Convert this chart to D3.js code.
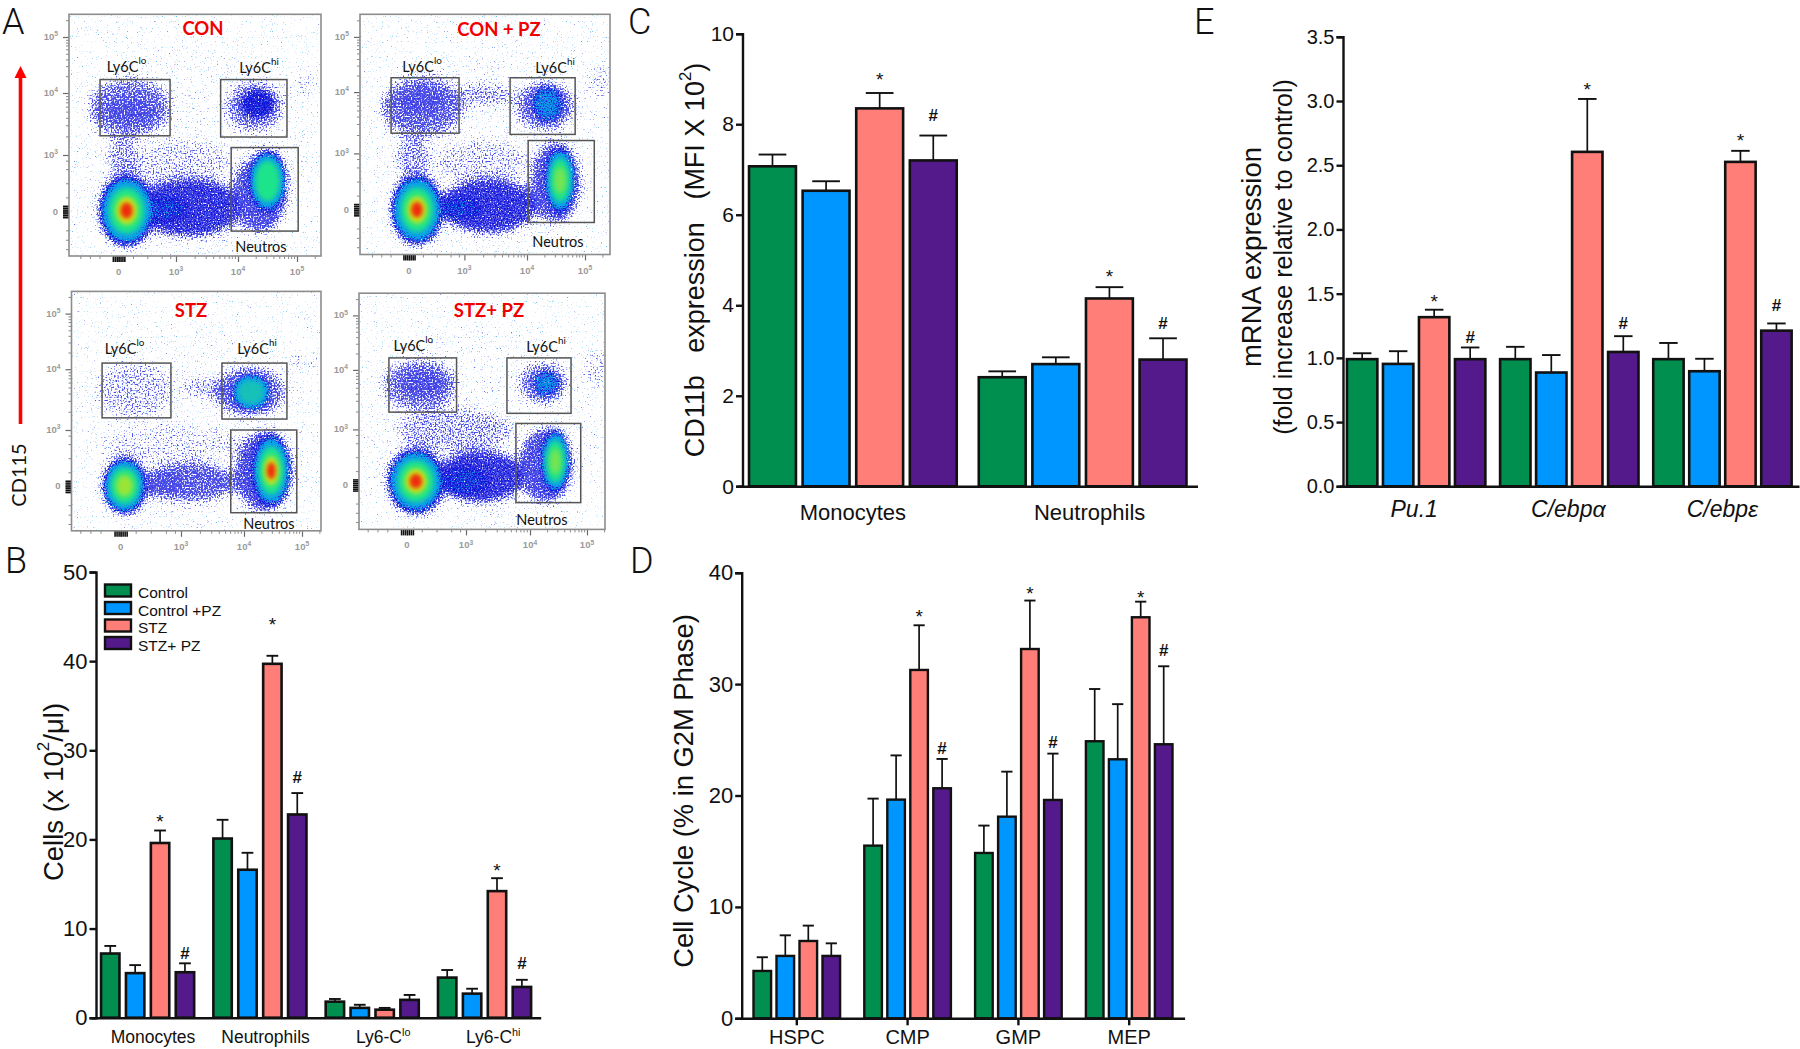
<!DOCTYPE html>
<html><head><meta charset="utf-8">
<script src="https://cdn.jsdelivr.net/npm/d3@7/dist/d3.min.js"></script>
<style>html,body{margin:0;padding:0;background:#fff}svg{display:block}</style>
</head><body><svg id="c" width="1800" height="1049" xmlns="http://www.w3.org/2000/svg"></svg>
<script>
// ---------- shared ----------
const seriesNames = ["Control","Control +PZ","STZ","STZ+ PZ"];
const seriesColors = ["#008f4f","#0096ff","#ff7f78","#541a8b"];

// ---------- panel B ----------
const bCats = ["Monocytes","Neutrophils","Ly6-C^{lo}","Ly6-C^{hi}"];
const bValues = [[7.2,5.0,19.6,5.1],[20.1,16.6,39.7,22.8],[1.8,1.1,0.9,2.0],[4.5,2.7,14.2,3.45]];
const bErrTops = [[8.05,5.9,21.0,6.1],[22.2,18.5,40.6,25.2],[2.1,1.45,1.1,2.55],[5.35,3.25,15.65,4.25]];
const bStars = [22.4,44.5,null,16.95];
const bHashes = [7.3,27.0,null,6.1];
const bTicks = [0,10,20,30,40,50];

// ---------- panel C ----------
const cCats = ["Monocytes","Neutrophils"];
const cValues = [[7.07,6.53,8.35,7.2],[2.41,2.7,4.15,2.8]];
const cErrTops = [[7.33,6.74,8.69,7.75],[2.54,2.85,4.4,3.27]];
const cStars = [9.07,4.72];
const cHashes = [8.2,3.62];
const cTicks = [0,2,4,6,8,10];

// ---------- panel D ----------
const dCats = ["HSPC","CMP","GMP","MEP"];
const dValues = [[4.25,5.6,6.94,5.6],[15.5,19.63,31.27,20.65],[14.84,18.1,33.15,19.6],[24.87,23.25,36.0,24.6]];
const dErrTops = [[5.48,7.45,8.32,6.73],[19.72,23.6,35.28,23.28],[17.3,22.14,37.5,23.76],[29.56,28.2,37.4,31.6]];
const dStars = [null,36.4,38.5,38.15];
const dHashes = [null,24.3,24.8,33.1];
const dTicks = [0,10,20,30,40];

// ---------- panel E ----------
const eCats = ["Pu.1","C/ebpα","C/ebpε"];
const eValues = [[0.99,0.953,1.317,0.99],[0.99,0.886,2.604,1.046],[0.99,0.896,2.526,1.212]];
const eErrTops = [[1.036,1.052,1.375,1.081],[1.086,1.022,3.016,1.169],[1.116,0.993,2.612,1.268]];
const eStars = [1.47,3.12,2.72];
const eHashes = [1.16,1.27,1.415];
const eTicks = [0,0.5,1,1.5,2,2.5,3,3.5];

// ---------- panel A: flow plots; coordinates are decades on the plot's biexponential axes ----------
const flowTicks = [0,3,4,5];
const flowTickLabels = ["0","10^{3}","10^{4}","10^{5}"];
const flowMinor = [-2,-1.5,-1,0.75,1.5,2.25,2.7,3.3,3.48,3.6,3.7,3.78,3.85,3.9,3.95,4.3,4.48,4.6,4.7,4.78,4.85,4.9,4.95,5.3];
const flowZeroClump = [-0.3,-0.2,-0.1,0,0.1,0.2,0.3];

// gates: [x0,x1,y0(top),y1(bottom)] for Ly6Clo, Ly6Chi, Neutros
const conGates = [[-0.97,2.69,4.24,3.31],[3.72,4.83,4.24,3.29],[3.89,5.02,3.12,-1.04]];
const conPzGates = [[-0.97,2.71,4.26,3.33],[3.73,4.83,4.26,3.31],[4.02,5.16,3.21,-0.68]];
const stzGates = [[-0.92,2.5,4.11,3.2],[3.65,4.74,4.11,3.18],[3.79,4.91,3.0,-1.4]];
const stzPzGates = [[-0.92,2.52,4.22,3.29],[3.64,4.72,4.22,3.27],[3.78,4.89,3.1,-0.95]];

// populations: [x0,x1,y0,y1,density]; density <1 sparse, 2 blue, 3 cyan, 4 green, 5 yellow, 6 red
const conClusters = [[-2,5.2,4.9,-2.5,.12],[4.92,5.4,4.4,3.9,.35],[0.8,3.9,3.25,1.3,.38],[-0.6,1.03,3.3,1.7,.6],
 [-1.66,2.8,4.29,3.27,.75],[-0.8,2.07,3.94,3.47,1.25],[3.78,4.78,4.22,3.36,.7],[4.01,4.65,4.1,3.56,2.1],
 [3.9,4.85,3.0,-1.15,1.3],[0.8,4.1,1.8,-1.4,1.7],[1.0,3.2,0.87,-0.6,2.3],[4.15,4.85,3.13,-0.2,4],[-1.14,1.97,2.1,-2.0,6]];
const conPzClusters = [[-2,5.3,4.9,-2.5,.12],[5.0,5.5,4.5,3.9,.4],[1.4,4.05,3.22,1.43,.4],[-0.75,1.18,3.28,1.63,.6],
 [-1.6,3.0,4.3,3.25,.8],[-0.75,2.03,4.1,3.6,1.3],[2.46,3.8,4.17,3.75,.55],[3.8,4.83,4.2,3.37,.8],[4.05,4.66,4.14,3.48,2.6],
 [4.05,4.93,3.2,-0.76,1.3],[1.6,4.2,1.7,-1.3,1.7],[1.4,3.3,0.76,-0.57,2.3],[4.28,4.86,3.16,-0.38,4.5],[-1.07,1.93,2.0,-2.0,6]];
const stzClusters = [[-2,5.2,4.9,-2.5,.1],[4.75,5.3,4.3,3.95,.35],[-0.88,4.0,3.1,1.28,.33],[-1.27,2.65,4.12,3.18,.45],
 [2.95,3.81,3.87,3.52,.5],[3.5,4.73,4.06,3.2,.8],[3.77,4.49,3.95,3.3,3.5],
 [3.85,4.86,3.0,-1.4,1.4],[1.08,3.9,1.3,-0.85,.9],[0.88,3.0,0.9,-0.63,1.3],[4.11,4.83,2.97,-1.3,6],[-0.98,1.37,1.66,-1.59,4.7]];
const stzPzClusters = [[-2,5.2,4.9,-2.5,.12],[4.95,5.45,4.4,3.7,.4],[-0.6,3.75,3.35,1.8,.55],[-1.3,2.6,4.21,3.3,.75],
 [-0.4,2.0,4.01,3.53,1.3],[3.81,4.66,4.14,3.42,.75],[4.03,4.55,4.01,3.53,2.6],
 [3.81,4.76,3.03,-1.0,1.35],[1.4,3.95,1.9,-1.0,1.7],[1.6,3.38,1.03,-0.62,2.3],[4.17,4.72,3.05,-0.62,4.5],[-1.1,2.0,2.09,-1.68,6]];

// ---------- layout (positions and styles only) ----------
const sans = "'Liberation Sans',Arial,sans-serif", human = "Lato,'Open Sans',sans-serif";
const levelColors = [null,"#1414d8","#0a9fe8","#1fe48a","#cfe612","#f02a08"];
const levelScale = [null,.94,.8,.6,.36,.21];
const flowPanels = [
 {title:"CON",clusters:conClusters,gates:conGates,frame:[69,14.3,321,256],
  xr:[118.6,176,238,297],yr:[211.5,155,93,37],tp:[203,28],lo:[126.5,65.6],hi:[259,67],ne:[261,246]},
 {title:"CON + PZ",clusters:conPzClusters,gates:conPzGates,frame:[360,14.3,610,254.5],
  xr:[409,464.4,527,585],yr:[209.7,153.4,92.1,36.9],tp:[499,29.4],lo:[422,65.6],hi:[555,67],ne:[558,241]},
 {title:"STZ",clusters:stzClusters,gates:stzGates,frame:[71.5,291.4,321,530.8],
  xr:[120.6,181,244,302],yr:[486.4,430,369.2,313.6],tp:[191,310],lo:[124.5,347.7],hi:[257,347.7],ne:[269,523]},
 {title:"STZ+ PZ",clusters:stzPzClusters,gates:stzPzGates,frame:[359,293.2,605,529.4],
  xr:[407,466,530,587],yr:[485,429.4,369.9,315.4],tp:[489,310],lo:[413.4,345],hi:[546,346],ne:[542,519]}
];
const barPanels = [
 {cats:bCats,vals:bValues,errs:bErrTops,stars:bStars,hashes:bHashes,ticks:bTicks,max:50,yr:[1017.7,572],axisX:96,
  xr:[91.45,540.7],s:24.9,w:21,sw:2.6,tickLen:0,pad:13,fs:22,xfs:17.5,shift:[5.4,5.6,11,8.7],fmt:d3.format("d")},
 {cats:cCats,vals:cValues,errs:cErrTops,stars:cStars,hashes:cHashes,ticks:cTicks,max:10,yr:[486.3,33.7],axisX:742.5,
  xr:[738,1197.5],s:53.6,w:49.5,sw:2.6,tickLen:0,pad:18,fs:21,xfs:22,shift:[0,7],fmt:d3.format("d")},
 {cats:dCats,vals:dValues,errs:dErrTops,stars:dStars,hashes:dHashes,ticks:dTicks,max:40,yr:[1018.3,572.7],axisX:741.7,
  xr:[741.4,1184.6],s:23,w:20,sw:2.4,tickLen:7,pad:5,fs:22,xfs:20,shift:[0,0,0,0],fmt:d3.format("d")},
 {cats:eCats,vals:eValues,errs:eErrTops,stars:eStars,hashes:eHashes,ticks:eTicks,max:3.5,yr:[486.3,36.8],axisX:1343,
  xr:[1339.6,1799],s:36,w:33,sw:2.6,tickLen:0,pad:14,fs:20,xfs:23,shift:[-2,-1,0],fmt:d3.format(".1f"),italic:true}
];

const svg = d3.select("#c");

// rich text with ^{...} superscripts
function rich(sel, str, supScale){
  sel.text(null);
  const parts = str.split(/(\^\{[^}]*\})/).filter(s=>s.length);
  let wasSup=false;
  parts.forEach(p=>{
    const sup=p.startsWith("^{");
    const fs=parseFloat(sel.style("font-size")||sel.attr("font-size"))||16;
    const t=sel.append("tspan").text(sup?p.slice(2,-1):p);
    if(sup){t.attr("font-size",fs*(supScale||.62)).attr("dy",-fs*.38);wasSup=true;}
    else if(wasSup){t.attr("dy",fs*.38);wasSup=false;}
  });
}

// ---------- filters: grain texture for the density clouds ----------
const defs = svg.append("defs");
function grain(id,color,blur,k2,T,slope,freq,seed,soft){
  const f = defs.append("filter").attr("id",id).attr("filterUnits","userSpaceOnUse")
    .attr("x",0).attr("y",0).attr("width",640).attr("height",560).attr("color-interpolation-filters","sRGB");
  f.append("feGaussianBlur").attr("in","SourceAlpha").attr("stdDeviation",blur).attr("result","dens");
  f.append("feTurbulence").attr("type","fractalNoise").attr("baseFrequency",freq).attr("numOctaves",1).attr("seed",seed).attr("result","tex");
  f.append("feComposite").attr("in","dens").attr("in2","tex").attr("operator","arithmetic")
    .attr("k1",0).attr("k2",k2).attr("k3",1).attr("k4",0).attr("result","sum");
  f.append("feComponentTransfer").attr("in","sum").attr("result","mask")
    .append("feFuncA").attr("type","linear").attr("slope",slope).attr("intercept",-T*slope);
  f.append("feFlood").attr("flood-color",color).attr("result","col");
  f.append("feComposite").attr("in","col").attr("in2","mask").attr("operator","in").attr("result","dots");
  f.append("feGaussianBlur").attr("in","dots").attr("stdDeviation",soft);
}
grain("speckle","#4a4ae8",5.5,.45,.74,6,.62,7,.3);
grain("soft1","#1414d8",3,.42,.72,5,.7,11,.3);
grain("soft2","#0a9fe8",3.2,.6,.66,4,.8,19,.3);
[[3,2.8],[4,2.4],[5,2]].forEach(([l,s])=>{
  defs.append("filter").attr("id","soft"+l).attr("x","-40%").attr("y","-40%").attr("width","180%").attr("height","180%")
    .append("feGaussianBlur").attr("stdDeviation",s);
});

// ---------- panel A ----------
flowPanels.forEach((p,i)=>{
  const [fx0,fy0,fx1,fy1]=p.frame;
  const x=d3.scaleLinear().domain(flowTicks).range(p.xr);
  const y=d3.scaleLinear().domain(flowTicks).range(p.yr);
  const g=svg.append("g");
  defs.append("clipPath").attr("id","clip"+i).append("rect").attr("x",fx0).attr("y",fy0).attr("width",fx1-fx0).attr("height",fy1-fy0);
  const plot=g.append("g").attr("clip-path",`url(#clip${i})`);
  const ell=(sel,d,f)=>{
    const a=x(d[0]),b=x(d[1]),c=y(d[2]),e=y(d[3]);
    sel.attr("cx",(a+b)/2).attr("cy",(c+e)/2).attr("rx",(b-a)/2*f).attr("ry",(e-c)/2*f);
  };
  plot.append("g").attr("filter","url(#speckle)").selectAll("ellipse").data(p.clusters).join("ellipse")
    .each(function(d){ell(d3.select(this),d,1);}).attr("fill","#000").attr("fill-opacity",d=>Math.min(1,d[4]));
  for(let l=1;l<=5;l++){
    plot.append("g").attr("filter",`url(#soft${l})`).selectAll("ellipse")
      .data(p.clusters.filter(d=>d[4]>l)).join("ellipse")
      .each(function(d){ell(d3.select(this),d,levelScale[l]);})
      .attr("fill",levelColors[l]).attr("fill-opacity",d=>Math.min(1,d[4]-l));
  }
  // axes
  const axG=g.append("g").attr("fill","none");
  const drawAxis=(gen,tr,col,w)=>{
    const a=axG.append("g").attr("transform",tr).call(gen);
    a.select(".domain").remove();
    a.selectAll("line").attr("stroke",col).attr("stroke-width",w);
    a.selectAll("text").remove();
  };
  const L=`translate(${fx0},0)`, B=`translate(0,${fy1})`;
  const xm=flowMinor.filter(v=>x(v)>fx0&&x(v)<fx1), ym=flowMinor.filter(v=>y(v)>fy0&&y(v)<fy1);
  drawAxis(d3.axisLeft(y).tickValues(ym).tickSize(3).tickFormat(""),L,"#8a8a8a",1);
  drawAxis(d3.axisBottom(x).tickValues(xm).tickSize(3).tickFormat(""),B,"#8a8a8a",1);
  drawAxis(d3.axisLeft(y).tickValues(flowTicks).tickSize(6).tickFormat(""),L,"#6a6a6a",1.2);
  drawAxis(d3.axisBottom(x).tickValues(flowTicks).tickSize(6).tickFormat(""),B,"#6a6a6a",1.2);
  drawAxis(d3.axisLeft(y).tickValues(flowZeroClump).tickSize(6).tickFormat(""),L,"#111",1.6);
  drawAxis(d3.axisBottom(x).tickValues(flowZeroClump).tickSize(6).tickFormat(""),B,"#111",1.6);
  flowTicks.forEach((t,k)=>{
    g.append("text").attr("x",fx0-11).attr("y",y(t)+3).attr("text-anchor","end")
      .attr("font-family",sans).attr("font-weight","bold").style("font-size","9.5px").attr("fill","#9a9a9a")
      .call(rich,flowTickLabels[k],.7);
    g.append("text").attr("x",x(t)).attr("y",fy1+19).attr("text-anchor","middle")
      .attr("font-family",sans).attr("font-weight","bold").style("font-size","9.5px").attr("fill","#9a9a9a")
      .call(rich,flowTickLabels[k],.7);
  });
  // frame, gates
  g.append("rect").attr("x",fx0).attr("y",fy0).attr("width",fx1-fx0).attr("height",fy1-fy0)
    .attr("fill","none").attr("stroke","#8c8c8c").attr("stroke-width",1.6);
  g.append("g").selectAll("rect").data(p.gates).join("rect")
    .attr("x",d=>x(d[0])).attr("y",d=>y(d[2])).attr("width",d=>x(d[1])-x(d[0])).attr("height",d=>y(d[3])-y(d[2]))
    .attr("fill","none").attr("stroke","#555").attr("stroke-width",1.5);
  // labels
  const lab=(pos,s)=>g.append("text").attr("x",pos[0]).attr("y",pos[1]).attr("text-anchor","middle")
    .attr("dominant-baseline","central").attr("font-family",human).style("font-size","14.5px").attr("fill","#111").call(rich,s,.68);
  lab(p.lo,"Ly6C^{lo}");lab(p.hi,"Ly6C^{hi}");lab(p.ne,"Neutros");
  g.append("text").attr("x",p.tp[0]).attr("y",p.tp[1]).attr("text-anchor","middle").attr("dominant-baseline","central")
    .attr("font-family",human).attr("font-weight","bold").style("font-size","18.5px").attr("fill","#f00000").text(p.title);
});

// red arrow + CD115
svg.append("line").attr("x1",20.5).attr("x2",20.5).attr("y1",424).attr("y2",76).attr("stroke","#ff0000").attr("stroke-width",3.6);
svg.append("path").attr("d",d3.line()([[20.5,66],[14.5,78],[26.5,78]])+"Z").attr("fill","#ff0000");
svg.append("text").attr("transform","translate(18,475) rotate(-90)").attr("text-anchor","middle").attr("dominant-baseline","central")
  .attr("font-family",human).style("font-size","20px").attr("fill","#111").text("CD115");

// panel letters
const letterNames=["A","B","C","D","E"], letterX=[2,5,628,630,1194], letterY=[33.6,573,33.6,573,33.6];
svg.append("g").selectAll("text").data(letterNames).join("text")
  .attr("x",(d,i)=>letterX[i]).attr("y",(d,i)=>letterY[i])
  .attr("font-family","Roboto,sans-serif").attr("font-weight",300).style("font-size","36px").attr("fill","#111").text(d=>d);

// ---------- bar panels ----------
barPanels.forEach(p=>{
  const g=svg.append("g");
  const x=d3.scaleBand().domain(p.cats).range(p.xr).padding(0);
  const gap=(p.s-p.w)/p.s, st=x.bandwidth();
  const inner=d3.scaleBand().domain(seriesNames).range([(st-4*p.s)/2,(st+4*p.s)/2]).paddingInner(gap).paddingOuter(gap/2);
  const y=d3.scaleLinear().domain([0,p.max]).range(p.yr);
  const groups=g.append("g").selectAll("g").data(p.cats).join("g").attr("transform",d=>`translate(${x(d)},0)`);
  groups.each(function(cat,ci){
    const gg=d3.select(this), bw=inner.bandwidth();
    seriesNames.forEach((s,si)=>{
      const cx=inner(s)+bw/2, v=p.vals[ci][si], e=p.errs[ci][si], cap=bw*.28;
      gg.append("line").attr("x1",cx).attr("x2",cx).attr("y1",y(v)).attr("y2",y(e)).attr("stroke","#111").attr("stroke-width",1.7);
      gg.append("line").attr("x1",cx-cap).attr("x2",cx+cap).attr("y1",y(e)).attr("y2",y(e)).attr("stroke","#111").attr("stroke-width",1.9);
      gg.append("rect").attr("x",inner(s)+p.sw/2).attr("width",bw-p.sw).attr("y",y(v)).attr("height",y(0)-y(v))
        .attr("fill",seriesColors[si]).attr("stroke","#111").attr("stroke-width",p.sw);
    });
    const mark=(val,sym,sIdx,fs,off,wt)=>{
      if(val==null) return;
      gg.append("text").attr("x",inner(seriesNames[sIdx])+bw/2).attr("y",y(val)+fs*off).attr("text-anchor","middle")
        .attr("font-family",sans).attr("font-weight",wt).style("font-size",fs+"px").attr("fill","#111").text(sym);
    };
    mark(p.stars[ci],"*",2,19,.55,"normal");
    mark(p.hashes[ci],"#",3,17,.36,"bold");
  });
  // axes
  const ya=g.append("g").attr("transform",`translate(${p.axisX},0)`)
    .call(d3.axisLeft(y).tickValues(p.ticks).tickSize(6.5).tickPadding(2).tickFormat(p.fmt));
  const xa=g.append("g").attr("transform",`translate(0,${y(0)})`)
    .call(d3.axisBottom(x).tickSize(p.tickLen).tickSizeOuter(0).tickPadding(p.pad));
  [ya,xa].forEach(a=>{
    a.selectAll("path,line").attr("stroke","#111").attr("stroke-width",2.4);
    a.selectAll("text").attr("font-family",sans).attr("fill","#111");
  });
  ya.attr("font-size",null).selectAll("text").style("font-size",p.fs+"px");
  xa.attr("font-size",null).selectAll("text").each(function(d,i){
    const t=d3.select(this).style("font-size",p.xfs+"px").attr("x",p.shift[i]);
    if(p.italic) t.attr("font-style","italic");
    t.call(rich,d,.62);
  });
});

// axis titles
const titleSpec=[
 {s:"Cells (x 10^{2}/μl)",x:53,y:792,fs:27.5},
 {s:"CD11b\u00a0\u00a0\u00a0expression\u00a0\u00a0\u00a0(MFI X 10^{2})",x:695,y:260,fs:27},
 {s:"Cell Cycle (% in G2M Phase)",x:683,y:791,fs:27.3},
 {s:"mRNA expression",x:1251,y:257,fs:27.5},
 {s:"(fold increase relative to control)",x:1283,y:257,fs:25}
];
titleSpec.forEach(t=>{
  svg.append("text").attr("transform",`translate(${t.x},${t.y}) rotate(-90)`).attr("text-anchor","middle").attr("dominant-baseline","central")
    .attr("font-family",sans).style("font-size",t.fs+"px").attr("fill","#111").call(rich,t.s,.62);
});

// legend (panel B)
const legY=d3.scalePoint().domain(seriesNames).range([590.5,643]);
const lg=svg.append("g").selectAll("g").data(seriesNames).join("g").attr("transform",d=>`translate(105,${legY(d)})`);
lg.append("rect").attr("x",0).attr("y",-6).attr("width",26).attr("height",12)
  .attr("fill",(d,i)=>seriesColors[i]).attr("stroke","#111").attr("stroke-width",2.4);
lg.append("text").attr("x",33).attr("y",2).attr("dominant-baseline","central")
  .attr("font-family",sans).style("font-size","15.5px").attr("fill","#111").text(d=>d);
</script></body></html>
